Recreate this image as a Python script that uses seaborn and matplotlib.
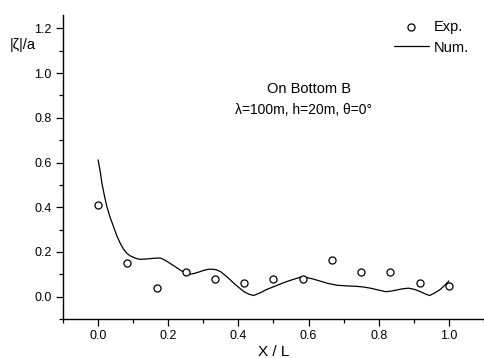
import matplotlib
matplotlib.use("Agg")
import matplotlib.pyplot as plt
import seaborn as sns
import pandas as pd
from matplotlib.ticker import MultipleLocator, FixedLocator

# Measured free-surface amplitude along the breakwater
exp_x = [0.0, 1/12, 2/12, 3/12, 4/12, 5/12, 6/12, 7/12, 8/12, 9/12, 10/12, 11/12, 1.0]
exp_y = [0.410, 0.152, 0.039, 0.110, 0.079, 0.061, 0.079, 0.079, 0.164, 0.109, 0.109, 0.060, 0.046]

# Numerical prediction
num_x = [0.0, 0.006, 0.011, 0.018, 0.025, 0.034, 0.044, 0.053, 0.063, 0.072,
         0.082, 0.091, 0.101, 0.110, 0.120, 0.134, 0.148, 0.163, 0.177, 0.191,
         0.205, 0.220, 0.234, 0.253, 0.265, 0.277, 0.289, 0.300, 0.313, 0.325,
         0.337, 0.349, 0.368, 0.387, 0.402, 0.416, 0.430, 0.443, 0.462, 0.482,
         0.506, 0.530, 0.554, 0.577, 0.596, 0.615, 0.634, 0.653, 0.681, 0.710,
         0.738, 0.757, 0.776, 0.798, 0.820, 0.836, 0.852, 0.868, 0.885, 0.903,
         0.919, 0.933, 0.945, 0.960, 0.976, 0.989, 1.0]
num_y = [0.612, 0.560, 0.507, 0.452, 0.403, 0.356, 0.313, 0.274, 0.239, 0.214,
         0.194, 0.183, 0.176, 0.170, 0.167, 0.168, 0.170, 0.172, 0.173, 0.163,
         0.149, 0.134, 0.119, 0.102, 0.101, 0.105, 0.111, 0.117, 0.122, 0.123,
         0.120, 0.112, 0.088, 0.060, 0.040, 0.022, 0.011, 0.005, 0.017, 0.033,
         0.048, 0.063, 0.076, 0.087, 0.085, 0.078, 0.069, 0.060, 0.051, 0.048,
         0.046, 0.043, 0.038, 0.030, 0.022, 0.025, 0.030, 0.035, 0.038, 0.032,
         0.022, 0.012, 0.005, 0.017, 0.033, 0.052, 0.070]

x_ticks = [0.0, 0.2, 0.4, 0.6, 0.8, 1.0]
y_ticks = [0.0, 0.2, 0.4, 0.6, 0.8, 1.0, 1.2]

sns.set_style("ticks")
plt.rcParams["font.family"] = ["Liberation Sans", "DejaVu Sans"]
plt.rcParams["text.color"] = "black"
plt.rcParams["axes.labelcolor"] = "black"

W, H = 485, 358
fig = plt.figure(figsize=(W / 100, H / 100), dpi=100)
ax = fig.add_axes([63 / W, 1 - 319 / H, (484 - 63) / W, (319 - 15) / H])

exp_df = pd.DataFrame({"x": exp_x, "y": exp_y})
num_df = pd.DataFrame({"x": num_x, "y": num_y})

sns.lineplot(data=num_df, x="x", y="y", ax=ax, color="black", lw=0.9,
             estimator=None, label="Num.")
sns.scatterplot(data=exp_df, x="x", y="y", ax=ax, marker="o", s=26,
                facecolor="white", edgecolor="black", linewidth=0.9,
                label="Exp.", zorder=3)

ax.set_xlim(-0.1, 1.1)
ax.set_ylim(-0.1, 1.26)
ax.xaxis.set_major_locator(FixedLocator(x_ticks))
ax.yaxis.set_major_locator(FixedLocator(y_ticks))
ax.xaxis.set_minor_locator(MultipleLocator(0.1))
ax.yaxis.set_minor_locator(MultipleLocator(0.1))
ax.set_xticklabels([f"{v:.1f}" for v in x_ticks])
ax.set_yticklabels([f"{v:.1f}" for v in y_ticks])
ax.tick_params(which="major", direction="out", length=5, width=0.9,
               labelsize=9, pad=3, colors="black")
ax.tick_params(which="minor", direction="out", length=3, width=0.9,
               colors="black")
for side in ("top", "right"):
    ax.spines[side].set_visible(False)
for side in ("left", "bottom"):
    ax.spines[side].set_linewidth(1.0)
    ax.spines[side].set_color("black")

ax.set_xlabel("X / L", fontsize=11, labelpad=2)
ax.set_ylabel("")
fig.text(10 / W, 1 - 45 / H, "|ζ|/a", fontsize=10.5, ha="left", va="center")

ax.text(0.6, 0.93, "On Bottom B", fontsize=10.5, ha="center", va="center",
        transform=ax.transData)
ax.text(0.585, 0.835, "λ=100m, h=20m, θ=0°", fontsize=10, ha="center",
        va="center", transform=ax.transData)

handles, labels = ax.get_legend_handles_labels()
order = [labels.index("Exp."), labels.index("Num.")]
ax.legend([handles[i] for i in order], [labels[i] for i in order],
          frameon=False, fontsize=10.5, loc="upper left",
          bbox_to_anchor=(394 / W, 1 - 20 / H), bbox_transform=fig.transFigure,
          borderpad=0, borderaxespad=0, handlelength=2.4, handletextpad=0.35,
          labelspacing=0.45)

fig.savefig("out.png", dpi=100)
